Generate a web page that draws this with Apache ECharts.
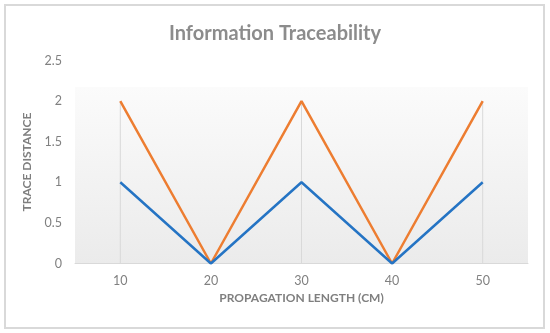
<!DOCTYPE html>
<html><head><meta charset="utf-8">
<script src="https://cdn.jsdelivr.net/npm/echarts@6/dist/echarts.min.js"></script>
<style>
html,body{margin:0;padding:0;background:#fff;}
#frame{position:absolute;left:4px;top:4px;width:537px;height:321px;border:2px solid #d9d9d9;}
#c{position:absolute;left:0;top:0;width:550px;height:333px;}
</style></head>
<body>
<div id="frame"></div>
<div id="c"></div>
<script>
const categories = ['10','20','30','40','50'];
const seriesBlue = [1,0,1,0,1];
const seriesOrange = [2,0,2,0,2];
const yTicks = {min:0, max:2.5, interval:0.5};

const chart = echarts.init(document.getElementById('c'));
const font = 'Lato, "Open Sans", sans-serif';
chart.setOption({
  animation:false,
  backgroundColor:'transparent',
  title:{text:'Information Traceability', left:'center', top:19,
    textStyle:{fontFamily:font, fontSize:20, fontWeight:'bold', color:'#8c8c8c'}},
  grid:{left:75, right:22, top:60.5, bottom:69.5, show:true, borderWidth:0,
    backgroundColor:{type:'linear',x:0,y:0,x2:0,y2:1,colorStops:[
      {offset:0,color:'#ffffff'},{offset:0.13,color:'#ffffff'},{offset:0.131,color:'#fbfbfb'},{offset:1,color:'#ebebeb'}]}},
  xAxis:{type:'category', data:categories, boundaryGap:true,
    name:'PROPAGATION LENGTH (CM)', nameLocation:'middle', nameGap:29,
    nameTextStyle:{fontFamily:font, fontSize:12, fontWeight:'bold', color:'#7f7f7f'},
    axisLine:{lineStyle:{color:'#d9d9d9', width:1}}, axisTick:{show:false},
    axisLabel:{fontFamily:font, fontSize:12.5, color:'#808080', margin:11},
    splitLine:{show:false}},
  yAxis:{type:'value', min:yTicks.min, max:yTicks.max, interval:yTicks.interval,
    name:'TRACE DISTANCE', nameLocation:'middle', nameGap:42, nameRotate:90,
    nameTextStyle:{fontFamily:font, fontSize:12, fontWeight:'bold', color:'#7f7f7f'},
    axisLine:{show:false}, axisTick:{show:false},
    axisLabel:{fontFamily:font, fontSize:12.5, color:'#808080', margin:13},
    splitLine:{show:false}},
  series:[
    {type:'bar', data:seriesOrange, barWidth:1, silent:true, z:1,
      itemStyle:{color:'#d9d9d9'}},
    {type:'line', data:seriesBlue, symbol:'none', z:3,
      lineStyle:{color:'#2574c4', width:2.5}},
    {type:'line', data:seriesOrange, symbol:'none', z:2,
      lineStyle:{color:'#ed7d31', width:2.5}}
  ]
});
</script>
</body></html>
